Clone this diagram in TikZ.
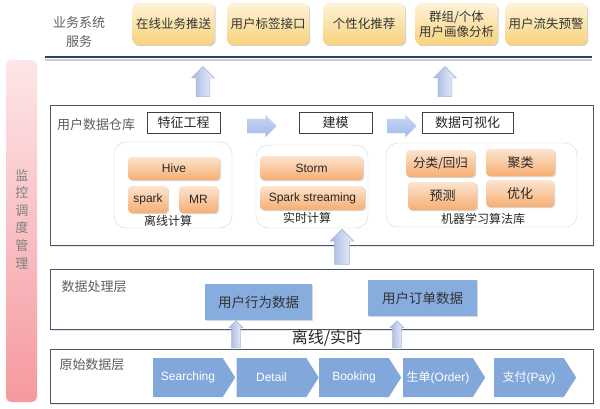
\documentclass[tikz,border=0pt]{standalone}
\usepackage{fontspec}
\setmainfont{Noto Sans CJK SC}
\newfontfamily\latfont{Liberation Sans}
\usetikzlibrary{shapes.arrows,shapes.symbols,shadows}

\definecolor{svctop}{HTML}{FEF3D8}
\definecolor{svcbot}{HTML}{F8D27C}
\definecolor{orgtop}{HTML}{FDE4CF}
\definecolor{orgbot}{HTML}{F6AE72}
\definecolor{navyline}{HTML}{2D3E6C}
\definecolor{panelline}{HTML}{4B576B}
\definecolor{grpline}{HTML}{D6D6D6}
\definecolor{bluebox}{HTML}{86ADDE}
\definecolor{chevfill}{HTML}{82A8DB}
\definecolor{arrtop}{HTML}{EEF2FC}
\definecolor{arrbot}{HTML}{A4B7E2}
\definecolor{arrline}{HTML}{A9B7D3}
\definecolor{rarrtop}{HTML}{C9D7F6}
\definecolor{rarrbot}{HTML}{A2B8EB}
\definecolor{pinktop}{HTML}{FDE6E8}
\definecolor{pinkbot}{HTML}{F5999F}
\definecolor{labelgray}{HTML}{5E5E5E}

\begin{document}
\begin{tikzpicture}[x=1pt,y=-1pt,
    svc/.style={rounded corners=6pt, top color=svctop, bottom color=svcbot,
      drop shadow={shadow xshift=1.2pt,shadow yshift=-1.2pt,opacity=.35},
      minimum width=82pt, minimum height=42pt, inner sep=1pt, align=center,
      text=black!80, font=\fontsize{12.5}{15}\selectfont},
    panel/.style={draw=panelline, line width=0.9pt, fill=white,
      drop shadow={shadow xshift=1pt,shadow yshift=-1.5pt,opacity=.2}},
    lbl/.style={text=labelgray, font=\fontsize{13}{15}\selectfont},
    stage/.style={draw=black!75, line width=1pt, fill=white, minimum height=21pt,
      inner sep=0pt, text=black!85, font=\fontsize{13}{15}\selectfont},
    grp/.style={draw=grpline, rounded corners=12pt, fill=white},
    tool/.style={rounded corners=4pt, top color=orgtop, bottom color=orgbot,
      drop shadow={shadow xshift=1.2pt,shadow yshift=-1.2pt,opacity=.3},
      inner sep=0pt, text=black!85, font=\fontsize{12}{14}\selectfont},
    grplbl/.style={text=black!85, font=\fontsize{12}{14}\selectfont},
    upblock/.style={single arrow, rotate=90, draw=arrline, line width=0.6pt,
      left color=arrbot, right color=arrtop},
    rblock/.style={single arrow, draw=none, top color=rarrtop, bottom color=rarrbot,
      inner sep=7pt, single arrow head extend=4pt, minimum height=29pt},
    databox/.style={fill=bluebox, minimum width=107pt, minimum height=36pt,
      drop shadow={shadow xshift=1.2pt,shadow yshift=-1.2pt,opacity=.3},
      text=black!80, font=\fontsize{13.5}{15}\selectfont},
    chev/.style={signal, signal to=east, signal pointer angle=115, fill=chevfill,
      minimum width=82pt, minimum height=39pt, inner sep=0pt,
      text=white, font=\fontsize{12}{14}\selectfont}]
  \useasboundingbox (0,0) rectangle (600,408);

  % monitoring bar
  \node[rounded corners=5pt, top color=pinktop, bottom color=pinkbot,
    minimum width=31pt, minimum height=342pt] (mon) at (21.5,231) {};
  \node[text=black!50, align=center, font=\fontsize{13}{17.6}\selectfont]
    (monlbl) at (22,219) {监\\控\\调\\度\\管\\理};

  % business services
  \node[lbl, align=center, font=\fontsize{13}{19}\selectfont] (svcttl) at (79,32) {业务系统\\服务};
  \node[svc] (push) at (173.5,24) {在线业务推送};
  \node[svc] (tagapi) at (268,24) {用户标签接口};
  \node[svc] (recom) at (364,24) {个性化推荐};
  \node[svc] (portrait) at (456.5,24) {群组/个体\\用户画像分析};
  \node[svc] (churn) at (546,24) {用户流失预警};
  \draw[black!20, line width=2pt] (45,59.8) -- (592,59.8);
  \draw[navyline, line width=2.2pt] (45,57) -- (592,57);

  \node[upblock, inner sep=6.5pt, single arrow head extend=4.5pt, minimum height=30pt] (up1) at (203,85) {};
  \node[upblock, inner sep=6.5pt, single arrow head extend=4.5pt, minimum height=30pt] (up2) at (445,85) {};

  % layers
  \node[panel, minimum width=543pt, minimum height=140pt] (dw) at (321.5,175) {};
  \node[panel, minimum width=543pt, minimum height=60pt] (proc) at (321.5,299) {};
  \node[panel, minimum width=543pt, minimum height=54pt] (raw) at (321.5,376) {};

  % user data warehouse
  \node[lbl] (dwlbl) at (96,125) {用户数据仓库};
  \node[stage, minimum width=73pt] (feat) at (183.5,122.5) {特征工程};
  \node[stage, minimum width=73pt] (model) at (335.5,122.5) {建模};
  \node[stage, minimum width=91pt] (vis) at (467.5,122.5) {数据可视化};
  \node[rblock] (r1) at (258.5,126) {};
  \node[rblock] (r2) at (398.5,126) {};

  \node[grp, minimum width=118pt, minimum height=86pt] (offgrp) at (173,185) {};
  \node[tool, minimum width=92pt, minimum height=23pt] (hive) at (174,168.5) {\latfont Hive};
  \node[tool, minimum width=40pt, minimum height=27pt] (spark) at (148,199.5) {\latfont spark};
  \node[tool, minimum width=39pt, minimum height=27pt] (mr) at (198.5,199.5) {\latfont MR};
  \node[grplbl] (offlbl) at (168,221) {离线计算};

  \node[grp, minimum width=112pt, minimum height=83pt] (rtgrp) at (312,186.5) {};
  \node[tool, minimum width=103pt, minimum height=24pt] (storm) at (311.5,168) {\latfont Storm};
  \node[tool, minimum width=105pt, minimum height=24pt] (sparkst) at (312.5,198) {\latfont Spark streaming};
  \node[grplbl] (rtlbl) at (307,218) {实时计算};

  \node[grp, minimum width=191pt, minimum height=84pt] (mlgrp) at (481.5,185) {};
  \node[tool, minimum width=69pt, minimum height=27pt, font=\fontsize{12.5}{14}\selectfont] (cls) at (440.5,163.5) {分类/回归};
  \node[tool, minimum width=69pt, minimum height=27pt, font=\fontsize{13}{14}\selectfont] (clu) at (520.5,162.5) {聚类};
  \node[tool, minimum width=69pt, minimum height=28pt, font=\fontsize{13}{14}\selectfont] (pred) at (442.5,196) {预测};
  \node[tool, minimum width=68pt, minimum height=27pt, font=\fontsize{13}{14}\selectfont] (opt) at (520,193.5) {优化};
  \node[grplbl] (mllbl) at (483,219) {机器学习算法库};

  % data processing layer
  \node[lbl] (proclbl) at (94,287) {数据处理层};
  \node[databox] (behav) at (258.5,302) {用户行为数据};
  \node[databox, minimum width=109pt] (order) at (422.5,298) {用户订单数据};

  % raw data layer
  \node[lbl] (rawlbl) at (92,365) {原始数据层};
  \node[chev] (search) at (188,377.5) {\latfont Searching};
  \node[chev] (detail) at (271.5,377.5) {\latfont Detail};
  \node[chev] (book) at (354,377.5) {\latfont Booking};
  \node[chev] (mkord) at (438,377.5) {生单{\latfont(Order)}};
  \node[chev] (pay) at (529,377.5) {支付{\latfont(Pay)}};

  % arrows between layers
  \node[upblock, inner sep=7pt, single arrow head extend=4.5pt, minimum height=35pt] (up3) at (342,250.5) {};
  \node[upblock, inner sep=4pt, single arrow head extend=2.5pt, minimum height=27pt] (up4) at (236,336.5) {};
  \node[upblock, inner sep=4pt, single arrow head extend=2.5pt, minimum height=27pt] (up5) at (397,336.5) {};
  \node[text=black!85, font=\fontsize{16}{18}\selectfont] (mode) at (327,338) {离线/实时};
\end{tikzpicture}
\end{document}
